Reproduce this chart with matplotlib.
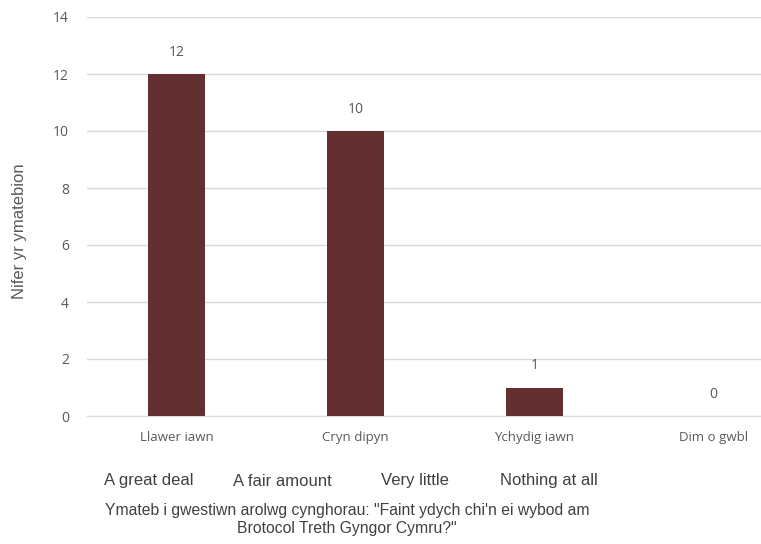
import numpy as np
import matplotlib
matplotlib.use("Agg")
import matplotlib.pyplot as plt

# data
cats_cy = ["Llawer iawn", "Cryn dipyn", "Ychydig iawn", "Dim o gwbl"]
cats_en = ["A great deal", "A fair amount", "Very little", "Nothing at all"]
counts = [12, 10, 1, 0]
yticks = [0, 2, 4, 6, 8, 10, 12, 14]

bar_col = "#632F30"
txt_col = "#595959"
grid_col = "#D9D9D9"

fig = plt.figure(figsize=(7.61, 5.44), dpi=100)
ax = fig.add_axes([87/761, 1 - 416/544, 1 - 87/761, (416 - 17)/544])

x = np.arange(len(counts))
ax.bar(x, counts, width=0.32, color=bar_col, zorder=3)
for xi, v in zip(x, counts):
    ax.text(xi, v + 0.5, str(v), ha="center", va="bottom",
            fontsize=10, color=txt_col, family="Open Sans")

ax.set_ylim(0, 14)
ax.set_xlim(-0.5, (761 - 87)/179 - 0.5)
ax.set_yticks(yticks)
ax.set_yticklabels([str(t) for t in yticks], fontsize=10, color=txt_col, family="Open Sans")
ax.tick_params(axis="y", length=0, pad=13)
ax.set_xticks(x)
ax.set_xticklabels(cats_cy, fontsize=9.5, color=txt_col, family="Open Sans")
ax.tick_params(axis="x", length=0, pad=11)
ax.grid(axis="y", color=grid_col, linewidth=1, zorder=0)
for s in ["top", "right", "left"]:
    ax.spines[s].set_visible(False)
ax.spines["bottom"].set_color(grid_col)

ax.set_ylabel("Nifer yr ymatebion", fontsize=12, color=txt_col, family="Liberation Sans")
ax.yaxis.set_label_coords(-(87 - 27)/674, (416 - 231)/399)

en_x = [149, 282, 415, 549]
for xx, lab in zip(en_x, cats_en):
    fig.text(xx/761, 1 - 481/544, lab, ha="center", va="center",
             fontsize=12, color="#404040", family="Liberation Sans")
fig.text(347/761, 1 - 519.5/544,
         "Ymateb i gwestiwn arolwg cynghorau: \"Faint ydych chi'n ei wybod am\nBrotocol Treth Gyngor Cymru?\"",
         ha="center", va="center", fontsize=11.3, color="#404040",
         family="Liberation Sans", linespacing=1.25)

fig.savefig("out.png", dpi=100)
